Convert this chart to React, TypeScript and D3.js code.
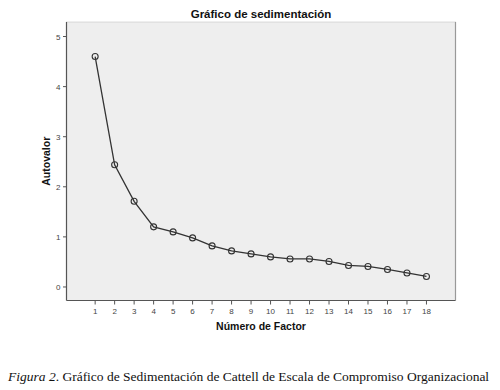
import React from 'react';
import * as d3 from 'd3';

const factors = [1, 2, 3, 4, 5, 6, 7, 8, 9, 10, 11, 12, 13, 14, 15, 16, 17, 18];
const eigenvalues = [4.6, 2.44, 1.71, 1.2, 1.1, 0.98, 0.82, 0.72, 0.66, 0.6, 0.56, 0.56, 0.51, 0.43, 0.41, 0.35, 0.28, 0.21];
const yTicks = [0, 1, 2, 3, 4, 5];

const left = 66.5, right = 455.5, top = 22, bottom = 300.5;

const App = () => {
    const x = d3.scaleLinear().domain([-0.47, 19.49]).range([left, right]);
    const y = d3.scaleLinear().domain([-0.27, 5.29]).range([bottom, top]);

    const line = d3.line<number>()
        .x((d, i) => x(factors[i]))
        .y(d => y(d));

    const sans = 'Arial, "Liberation Sans", sans-serif';

    return (
        <svg width={500} height={390} style={{ position: 'absolute', left: 0, top: 0 }}>
            <rect x={0} y={0} width={500} height={390} fill="#fff" />
            <text x={(left + right) / 2} y={18} textAnchor="middle" fontFamily={sans} fontWeight="bold" fontSize={11.5} fill="#111">
                Gráfico de sedimentación
            </text>
            <rect x={left} y={top} width={right - left} height={bottom - top} fill="#eeeeee" />
            <line x1={left} x2={right} y1={top} y2={top} stroke="#bbb" strokeDasharray="1,1" />
            <line x1={right} x2={right} y1={top} y2={bottom} stroke="#999" strokeWidth={1.2} />
            <line x1={left} x2={left} y1={top} y2={bottom} stroke="#555" strokeWidth={1.2} />
            <line x1={left} x2={right} y1={bottom} y2={bottom} stroke="#555" strokeWidth={1.2} />

            {yTicks.map(t => (
                <g key={'y' + t}>
                    <line x1={left - 3.5} x2={left} y1={y(t)} y2={y(t)} stroke="#555" />
                    <text x={left - 6} y={y(t) + 3} textAnchor="end" fontFamily={sans} fontSize={8} fill="#444">{t}</text>
                </g>
            ))}
            {factors.map(f => (
                <g key={'x' + f}>
                    <line x1={x(f)} x2={x(f)} y1={bottom} y2={bottom + 4} stroke="#555" />
                    <text x={x(f)} y={bottom + 13} textAnchor="middle" fontFamily={sans} fontSize={8} fill="#444">{f}</text>
                </g>
            ))}

            <text transform={`translate(50,${(top + bottom) / 2}) rotate(-90)`} textAnchor="middle" fontFamily={sans} fontWeight="bold" fontSize={10.5} fill="#111">
                Autovalor
            </text>
            <text x={(left + right) / 2} y={330} textAnchor="middle" fontFamily={sans} fontWeight="bold" fontSize={10.5} fill="#111">
                Número de Factor
            </text>

            <path d={line(eigenvalues) || ''} fill="none" stroke="#333" strokeWidth={1.3} />
            {eigenvalues.map((v, i) => (
                <circle key={'p' + i} cx={x(factors[i])} cy={y(v)} r={3} fill="none" stroke="#333" strokeWidth={1.1} />
            ))}

            <text x={8} y={381} fontFamily='"Liberation Serif", "Times New Roman", serif' fontSize={13.5} fill="#111">
                <tspan fontStyle="italic">Figura 2</tspan>. Gráfico de Sedimentación de Cattell de Escala de Compromiso Organizacional
            </text>
        </svg>
    );
};

export default App;
